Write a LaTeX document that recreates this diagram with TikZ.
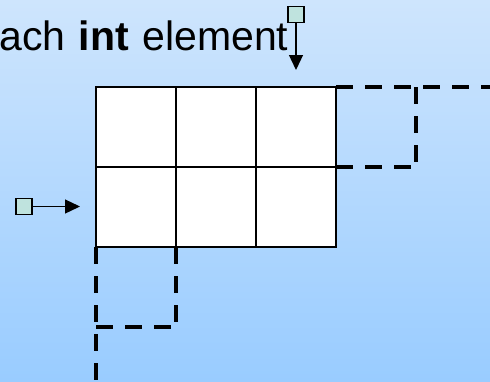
\documentclass[tikz,border=0pt]{standalone}
\usepackage{fontspec}
\setmainfont{Liberation Sans}
\usetikzlibrary{arrows.meta}
\definecolor{bgtop}{RGB}{206,229,253}
\definecolor{bgbot}{RGB}{153,204,255}
\definecolor{ptrfill}{RGB}{191,227,222}
\tikzset{
  cell/.style={draw=black, line width=1.5pt, fill=white, minimum size=80pt, inner sep=0pt, outer sep=0pt},
  ptrbox/.style={draw=black, line width=1.5pt, fill=ptrfill, minimum size=16pt, inner sep=0pt},
  ptrarrow/.style={draw=black, line width=1.3pt, -{Triangle[length=15pt,width=14pt]}},
  overrun/.style={draw=black, line width=3.3pt, dash pattern=on 16.5pt off 12.5pt, line cap=butt}
}
\newcommand{\widespaces}{\spaceskip=13.5pt\relax}
\begin{document}
\begin{tikzpicture}[x=1pt, y=-1pt]
  \useasboundingbox (0,0) rectangle (490,381);
  \clip (0,0) rectangle (490,381);
  \shade[top color=bgtop, bottom color=bgbot] (0,0) rectangle (490,381);

  % caption line
  \node[anchor=base east, inner sep=0pt,
        font=\fontsize{41pt}{48pt}\selectfont] (caption) at (288.5,50)
    {\widespaces each \textbf{int} element};

  % 2 x 3 array of int cells
  \foreach \r in {1,2} {
    \foreach \c in {1,2,3} {
      \node[cell] (c\r\c) at ({56+80*\c},{47+80*\r}) {};
    }
  }

  % out-of-bounds regions past the last column and the last row
  \coordinate (trA) at (490,87);
  \coordinate (trB) at (416,87);
  \coordinate (trC) at (416,167);
  \coordinate (blA) at (96,381);
  \coordinate (blB) at (176,327);
  \coordinate (blC) at (96,327);
  \draw[overrun] (c13.north east) -- (trA);
  \draw[overrun] (trB) -- (trC);
  \draw[overrun] (c23.north east) -- (trC);
  \draw[overrun] (c21.south west) -- (blA);
  \draw[overrun] (c21.south east) -- (blB);
  \draw[overrun] (blC) -- (blB);

  % pointers
  \node[ptrbox] (colptr) at (296,14.5) {};
  \coordinate (colhead) at (296,70);
  \draw[ptrarrow] (colptr.south) -- (colhead);

  \node[ptrbox] (rowptr) at (24,206.5) {};
  \coordinate (rowhead) at (80,206.5);
  \draw[ptrarrow] (rowptr.east) -- (rowhead);
\end{tikzpicture}
\end{document}
